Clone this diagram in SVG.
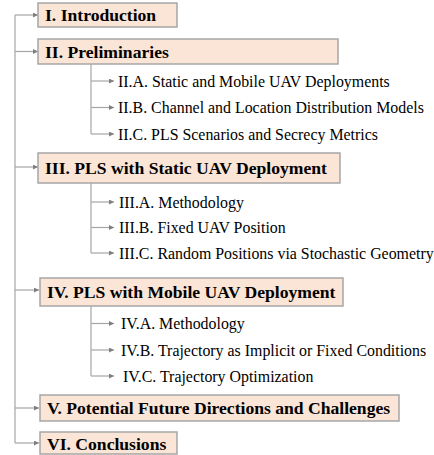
<svg xmlns="http://www.w3.org/2000/svg" width="434" height="455" viewBox="0 0 434 455">
<defs>
<style>
.box{fill:#fbe5d6;stroke:#a6a6a6;stroke-width:1.5}
.h{font-family:"Liberation Serif","Times New Roman","DejaVu Serif",serif;font-weight:bold;font-size:17.6px;fill:#000}
.s{font-family:"Liberation Serif","Times New Roman","DejaVu Serif",serif;font-size:15.9px;fill:#000}
.c{fill:none;stroke:#a6a6a6;stroke-width:1.2}
</style>
<marker id="ah" viewBox="0 0 6 6" refX="6" refY="3" markerWidth="5" markerHeight="5" markerUnits="userSpaceOnUse" orient="auto">
<path d="M0,0 L6,3 L0,6 z" fill="#7f7f7f"/>
</marker>
</defs>
<g id="connectors">
<path class="c" d="M15,15 V443"/>
<path class="c" d="M15,15 H38" marker-end="url(#ah)"/>
<path class="c" d="M15,51.5 H38" marker-end="url(#ah)"/>
<path class="c" d="M15,167 H38" marker-end="url(#ah)"/>
<path class="c" d="M15,290 H39" marker-end="url(#ah)"/>
<path class="c" d="M15,408 H39" marker-end="url(#ah)"/>
<path class="c" d="M15,443 H39" marker-end="url(#ah)"/>
<path class="c" d="M91,64 V134"/>
<path class="c" d="M91,81 H114" marker-end="url(#ah)"/>
<path class="c" d="M91,107.5 H114" marker-end="url(#ah)"/>
<path class="c" d="M91,134 H114" marker-end="url(#ah)"/>
<path class="c" d="M91,183 V253"/>
<path class="c" d="M91,202 H114" marker-end="url(#ah)"/>
<path class="c" d="M91,227.5 H114" marker-end="url(#ah)"/>
<path class="c" d="M91,253 H114" marker-end="url(#ah)"/>
<path class="c" d="M91,306 V376"/>
<path class="c" d="M91,323.5 H114" marker-end="url(#ah)"/>
<path class="c" d="M91,350 H114" marker-end="url(#ah)"/>
<path class="c" d="M91,376 H114" marker-end="url(#ah)"/>
</g>
<g id="n1"><rect class="box" x="38" y="3" width="139" height="24"/><text class="h" x="45" y="21">I. Introduction</text></g>
<g id="n2"><rect class="box" x="38" y="39" width="300" height="25"/><text class="h" x="45" y="57.5">II. Preliminaries</text></g>
<g id="n2a"><text class="s" x="118" y="86.5">II.A. Static and Mobile UAV Deployments</text></g>
<g id="n2b"><text class="s" x="118" y="113">II.B. Channel and Location Distribution Models</text></g>
<g id="n2c"><text class="s" x="118" y="139.5">II.C. PLS Scenarios and Secrecy Metrics</text></g>
<g id="n3"><rect class="box" x="38" y="153" width="302" height="30"/><text class="h" x="45" y="174">III. PLS with Static UAV Deployment</text></g>
<g id="n3a"><text class="s" x="119" y="207.5">III.A. Methodology</text></g>
<g id="n3b"><text class="s" x="119" y="233">III.B. Fixed UAV Position</text></g>
<g id="n3c"><text class="s" x="119" y="258.5">III.C. Random Positions via Stochastic Geometry</text></g>
<g id="n4"><rect class="box" x="40" y="278" width="303" height="28"/><text class="h" x="47" y="298">IV. PLS with Mobile UAV Deployment</text></g>
<g id="n4a"><text class="s" x="121" y="329">IV.A. Methodology</text></g>
<g id="n4b"><text class="s" x="121" y="355.5">IV.B. Trajectory as Implicit or Fixed Conditions</text></g>
<g id="n4c"><text class="s" x="123" y="381.5">IV.C. Trajectory Optimization</text></g>
<g id="n5"><rect class="box" x="40" y="395" width="359" height="26"/><text class="h" x="47" y="414">V. Potential Future Directions and Challenges</text></g>
<g id="n6"><rect class="box" x="40" y="432" width="137" height="22"/><text class="h" x="47" y="449.5">VI. Conclusions</text></g>
</svg>
